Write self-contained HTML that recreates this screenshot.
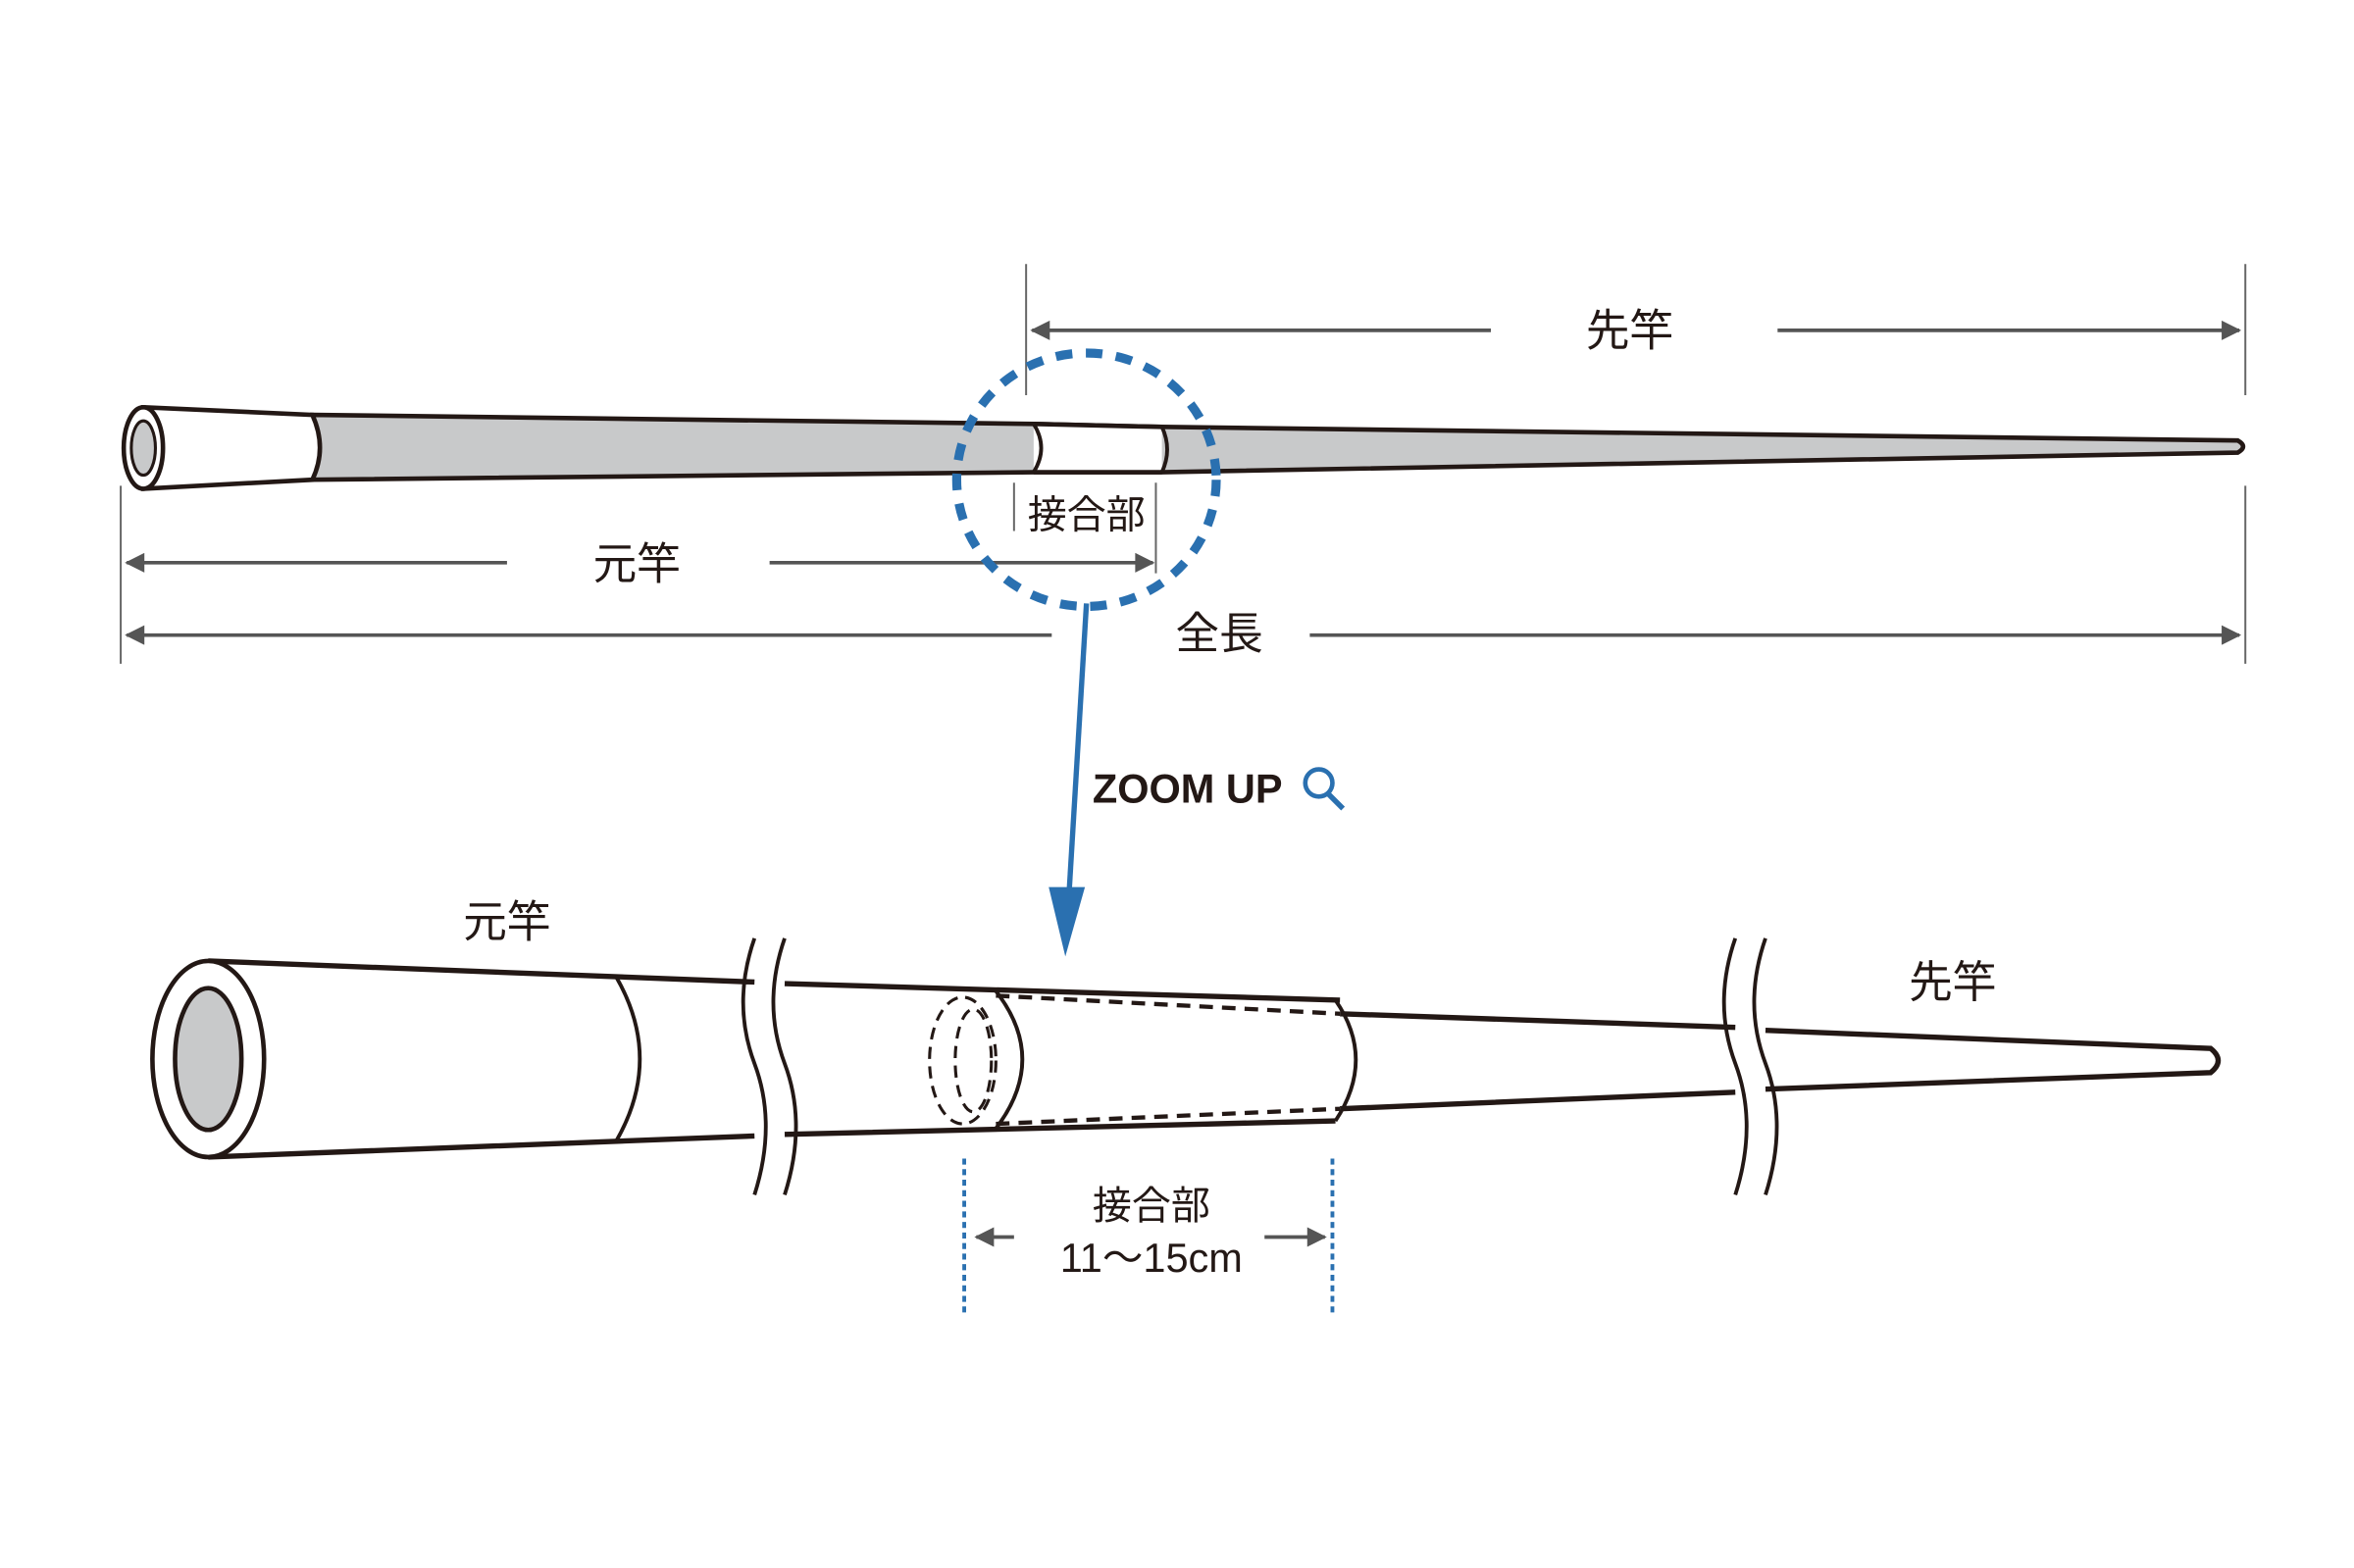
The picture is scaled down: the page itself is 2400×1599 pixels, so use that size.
<!DOCTYPE html>
<html><head><meta charset="utf-8"><style>
html,body{margin:0;padding:0;background:#fff;width:2400px;height:1599px;overflow:hidden}
svg{display:block}
text{font-family:"Liberation Sans","Noto Sans CJK JP",sans-serif;fill:#231815}
</style></head><body>
<svg width="2400" height="1599" viewBox="0 0 1560 1039.4" preserveAspectRatio="none" xmlns="http://www.w3.org/2000/svg">
<defs>
<marker id="ah" viewBox="0 0 10 10" refX="9" refY="5" markerWidth="20" markerHeight="13" orient="auto-start-reverse" markerUnits="userSpaceOnUse"><path d="M0,0 L10,5 L0,10 z" fill="#555"/></marker>
</defs>
<rect width="1560" height="1040" fill="#fff"/>
<!-- TOP ROD -->
<path d="M207,275 L685,281 L770,283 L1483,292 Q1490,296 1483,300 L770,313 L685,313 L207,318 Z" fill="#c8c9ca" stroke="#231815" stroke-width="3"/>
<path d="M685,281 L770,283 L770,313 L685,313 Z" fill="#fff"/>
<path d="M685,281 Q695,297 685,313" fill="none" stroke="#231815" stroke-width="2.5"/>
<path d="M770,283 Q777,298 770,313" fill="none" stroke="#231815" stroke-width="2.5"/>
<path d="M685,281 L770,283 M685,313 L770,313" stroke="#231815" stroke-width="3"/>
<path d="M95,270 L207,275 Q217,297 207,318 L95,324 Z" fill="#fff" stroke="#231815" stroke-width="3"/>
<ellipse cx="95" cy="297" rx="13" ry="27" fill="#fff" stroke="#231815" stroke-width="3"/>
<ellipse cx="95" cy="297" rx="8" ry="18" fill="#c8c9ca" stroke="#231815" stroke-width="2"/>
<!-- extension lines -->
<g stroke="#666" stroke-width="1.3">
<line x1="680" y1="175" x2="680" y2="262"/>
<line x1="1488" y1="175" x2="1488" y2="262"/>
<line x1="1488" y1="322" x2="1488" y2="440"/>
<line x1="80" y1="322" x2="80" y2="440"/>
<line x1="672" y1="320" x2="672" y2="352"/>
<line x1="766" y1="320" x2="766" y2="380"/>
</g>
<g stroke="#555" stroke-width="2.4" fill="none">
<line x1="684" y1="219" x2="988" y2="219" marker-start="url(#ah)"/>
<line x1="1178" y1="219" x2="1484" y2="219" marker-end="url(#ah)"/>
<line x1="84" y1="373" x2="336" y2="373" marker-start="url(#ah)"/>
<line x1="510" y1="373" x2="764" y2="373" marker-end="url(#ah)"/>
<line x1="84" y1="421" x2="697" y2="421" marker-start="url(#ah)"/>
<line x1="868" y1="421" x2="1484" y2="421" marker-end="url(#ah)"/>
</g>
<text x="1080" y="229" font-size="29" text-anchor="middle">先竿</text>
<text x="422" y="384" font-size="29" text-anchor="middle">元竿</text>
<text x="808" y="430" font-size="29" text-anchor="middle">全長</text>
<text x="720" y="350" font-size="26" text-anchor="middle">接合部</text>
<!-- blue circle -->
<ellipse cx="720" cy="318" rx="86" ry="84" fill="none" stroke="#2a70b0" stroke-width="6" stroke-dasharray="11 9"/>
<line x1="720" y1="400" x2="708" y2="600" stroke="#2a70b0" stroke-width="3.5"/>
<path d="M695,588 L719,588 L706,634 Z" fill="#2a70b0"/>
<text x="724" y="532" font-size="27" font-weight="bold" letter-spacing="0">ZOOM UP</text>
<circle cx="874" cy="519" r="9" fill="none" stroke="#2a70b0" stroke-width="3"/>
<line x1="880" y1="526" x2="890" y2="536" stroke="#2a70b0" stroke-width="3.5"/>
<!-- BOTTOM ROD -->
<g fill="none" stroke="#231815" stroke-width="3.5">
<path d="M138,637 L500,651 M520,652 L888,663 M888,672 L1150,681 M1170,683 L1465,695 Q1475,703 1465,711 L1170,722 M1150,724 L888,735 M885,743 L520,752 M500,753 L138,767"/>
<path d="M408,647 Q440,702 408,757" stroke-width="2.5"/>
<path d="M660,657 Q695,702 660,748" stroke-width="2.5"/>
<path d="M885,663 Q912,702 885,743" stroke-width="2.5"/>
<path d="M660,660 L888,672 M660,745 L888,735" stroke-dasharray="9 6" stroke-width="2.8"/>
<ellipse cx="638" cy="703" rx="22" ry="42" stroke-dasharray="8 5" stroke-width="2"/>
<ellipse cx="645" cy="703" rx="12" ry="34" stroke-dasharray="8 5" stroke-width="2"/>
</g>
<path d="M500,622 Q485,665 500,705 Q515,745 500,792 M520,622 Q505,665 520,705 Q535,745 520,792" fill="none" stroke="#231815" stroke-width="2.5"/>
<path d="M1150,622 Q1135,665 1150,705 Q1165,745 1150,792 M1170,622 Q1155,665 1170,705 Q1185,745 1170,792" fill="none" stroke="#231815" stroke-width="2.5"/>
<ellipse cx="138" cy="702" rx="37" ry="65" fill="#fff" stroke="#231815" stroke-width="3"/>
<ellipse cx="138" cy="702" rx="22" ry="47" fill="#c8c9ca" stroke="#231815" stroke-width="3"/>
<text x="336" y="621" font-size="29" text-anchor="middle">元竿</text>
<text x="1294" y="661" font-size="29" text-anchor="middle">先竿</text>
<text x="763" y="808" font-size="26" text-anchor="middle">接合部</text>
<text x="763" y="843" font-size="27" text-anchor="middle">11〜15cm</text>
<g stroke="#2a70b0" stroke-width="2.5" stroke-dasharray="4 3">
<line x1="639" y1="768" x2="639" y2="870"/>
<line x1="883" y1="768" x2="883" y2="870"/>
</g>
<g stroke="#555" stroke-width="2.4">
<line x1="672" y1="820" x2="647" y2="820" marker-end="url(#ah)"/>
<line x1="838" y1="820" x2="878" y2="820" marker-end="url(#ah)"/>
</g>
</svg>
</body></html>
